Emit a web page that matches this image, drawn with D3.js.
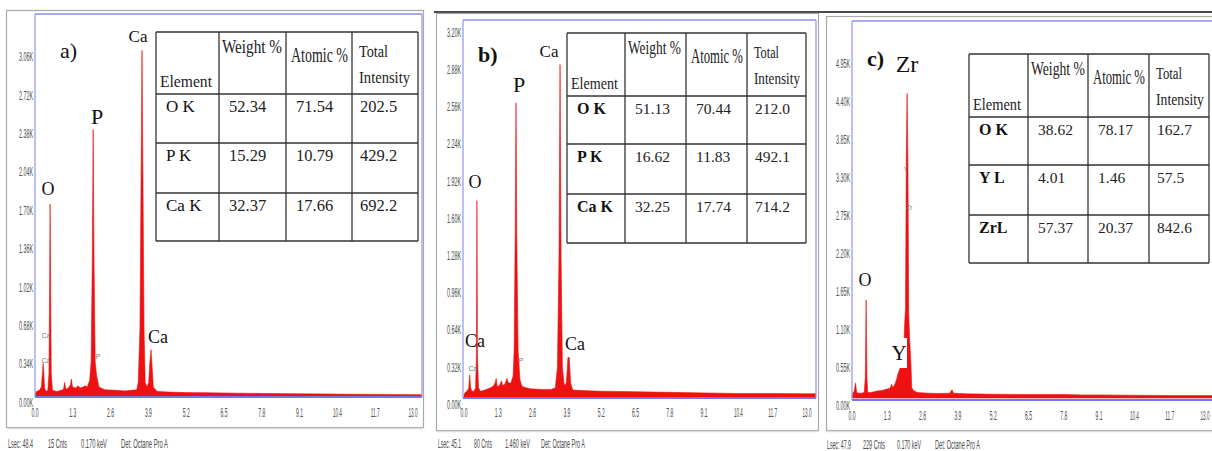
<!DOCTYPE html>
<html><head><meta charset="utf-8">
<script src="https://cdn.jsdelivr.net/npm/d3@7"></script>
<style>html,body{margin:0;padding:0;background:#fff;overflow:hidden}</style>
</head><body>
<svg id="chart" width="1212" height="451"></svg>
<script>
// ---------------- DATA ----------------
const xTicks = [0.0, 1.3, 2.6, 3.9, 5.2, 6.5, 7.8, 9.1, 10.4, 11.7, 13.0];
const yTicksA = [0.00, 0.34, 0.68, 1.02, 1.36, 1.70, 2.04, 2.38, 2.72, 3.06];
const yTicksB = [0.00, 0.32, 0.64, 0.96, 1.28, 1.60, 1.92, 2.24, 2.56, 2.88, 3.20];
const yTicksC = [0.00, 0.55, 1.10, 1.65, 2.20, 2.75, 3.30, 3.85, 4.40, 4.95];

// spectra: [energy keV, counts (K)]
const spectrumA = [[0.00,0.02],[0.05,0.04],[0.15,0.05],[0.22,0.08],[0.26,0.22],[0.28,0.29],[0.30,0.22],[0.33,0.07],[0.38,0.04],[0.44,0.05],[0.48,0.20],[0.50,0.90],[0.52,1.70],[0.54,0.90],[0.56,0.20],[0.60,0.05],[0.75,0.04],[0.90,0.05],[0.98,0.06],[1.02,0.12],[1.06,0.06],[1.15,0.07],[1.22,0.10],[1.25,0.15],[1.29,0.08],[1.40,0.07],[1.48,0.09],[1.55,0.07],[1.65,0.08],[1.72,0.09],[1.80,0.08],[1.88,0.14],[1.93,0.30],[1.97,1.20],[2.00,2.36],[2.03,1.20],[2.07,0.30],[2.12,0.18],[2.20,0.08],[2.40,0.055],[2.80,0.05],[3.10,0.045],[3.30,0.05],[3.50,0.055],[3.55,0.12],[3.61,0.60],[3.65,2.00],[3.68,3.06],[3.71,2.00],[3.75,0.60],[3.79,0.12],[3.85,0.08],[3.91,0.12],[3.95,0.30],[3.99,0.41],[4.03,0.25],[4.07,0.08],[4.20,0.04],[4.60,0.035],[5.20,0.03],[6.00,0.028],[7.00,0.025],[8.00,0.022],[9.00,0.02],[10.0,0.018],[11.0,0.016],[12.0,0.014],[13.0,0.012],[13.3,0.012]];
const spectrumB = [[0.00,0.02],[0.05,0.04],[0.12,0.05],[0.18,0.08],[0.22,0.19],[0.25,0.08],[0.30,0.05],[0.38,0.05],[0.44,0.08],[0.47,0.36],[0.49,1.69],[0.51,0.36],[0.55,0.08],[0.62,0.05],[0.80,0.06],[1.00,0.08],[1.10,0.09],[1.18,0.12],[1.22,0.16],[1.26,0.09],[1.35,0.10],[1.42,0.14],[1.46,0.10],[1.55,0.11],[1.63,0.16],[1.68,0.12],[1.78,0.12],[1.86,0.18],[1.90,0.40],[1.94,1.40],[1.97,2.53],[2.00,1.40],[2.05,0.40],[2.12,0.15],[2.20,0.09],[2.50,0.07],[3.00,0.065],[3.30,0.065],[3.46,0.08],[3.54,0.25],[3.60,1.20],[3.64,2.86],[3.68,1.20],[3.73,0.25],[3.80,0.10],[3.88,0.12],[3.94,0.34],[3.99,0.34],[4.04,0.12],[4.12,0.06],[4.50,0.055],[5.20,0.05],[6.50,0.045],[7.80,0.04],[9.10,0.035],[10.4,0.03],[11.7,0.03],[13.0,0.028],[13.35,0.028]];
const spectrumC = [[0.00,0.05],[0.08,0.10],[0.13,0.22],[0.17,0.08],[0.25,0.07],[0.35,0.07],[0.45,0.08],[0.49,0.30],[0.52,1.42],[0.55,0.30],[0.58,0.08],[0.70,0.08],[0.92,0.10],[1.10,0.11],[1.30,0.13],[1.40,0.14],[1.46,0.20],[1.50,0.15],[1.58,0.20],[1.65,0.28],[1.70,0.36],[1.77,0.43],[1.84,0.50],[1.90,0.60],[1.93,1.00],[1.97,1.30],[2.00,3.50],[2.03,4.41],[2.06,3.40],[2.09,1.20],[2.13,0.80],[2.17,0.50],[2.20,0.15],[2.26,0.11],[2.40,0.08],[2.80,0.07],[3.20,0.065],[3.60,0.07],[3.68,0.12],[3.74,0.07],[4.20,0.06],[5.20,0.055],[6.50,0.05],[7.80,0.05],[8.50,0.045],[9.10,0.045],[10.4,0.04],[11.7,0.035],[13.0,0.035],[13.35,0.035]];

const tableHeader = ["Element", "Weight %", "Atomic %", "Total", "Intensity"];
const elementsA = ["O K", "P K", "Ca K"];
const weightA = ["52.34", "15.29", "32.37"];
const atomicA = ["71.54", "10.79", "17.66"];
const intensityA = ["202.5", "429.2", "692.2"];
const elementsB = ["O K", "P K", "Ca K"];
const weightB = ["51.13", "16.62", "32.25"];
const atomicB = ["70.44", "11.83", "17.74"];
const intensityB = ["212.0", "492.1", "714.2"];
const elementsC = ["O K", "Y L", "ZrL"];
const weightC = ["38.62", "4.01", "57.37"];
const atomicC = ["78.17", "1.46", "20.37"];
const intensityC = ["162.7", "57.5", "842.6"];

const footerA = ["Lsec: 48.4", "15 Cnts", "0.170 keV", "Det: Octane Pro A"];
const footerB = ["Lsec: 45.1", "80 Cnts", "1.460 keV", "Det: Octane Pro A"];
const footerC = ["Lsec: 47.9", "229 Cnts", "0.170 keV", "Det: Octane Pro A"];

// ---------------- LAYOUT ----------------
const panels = [
  { name:"a)", nameBold:false, spectrum:spectrumA, yTicks:yTicksA,
    frame:[6,10,423,427], plot:[35,14,422,397], x0:35, x13:413, yBase:396, yTopTick:50.4,
    yLabDy:7, xLabY:413,
    nameXY:[60,58], nameSize:22,
    labels:[
      {t:"Ca", x:138, y:42, s:17},
      {t:"P", x:97, y:124, s:22},
      {t:"O", x:48, y:195, s:18},
      {t:"Ca", x:158, y:343, s:18}],
    tiny:[{t:"Ca",x:46,y:338},{t:"Ca",x:46,y:363},{t:"P",x:98,y:359}],
    mask:null,
    table:{cols:[156,219,286,352,418], rows:[32,94,143,193,241], bold:false, fs:16,
      hw:[52,60,57,29,51], el:elementsA, w:weightA, at:atomicA, it:intensityA},
    footer:footerA, footX:[8,48,81,121], footY:448, footW:[25,19,26,47] },
  { name:"b)", nameBold:true, spectrum:spectrumB, yTicks:yTicksB,
    frame:[436,13,818,430], plot:[463,20,816,398], x0:464, x13:807, yBase:397, yTopTick:25,
    yLabDy:8, xLabY:413,
    nameXY:[478,62], nameSize:22,
    labels:[
      {t:"Ca", x:549, y:57, s:17},
      {t:"P", x:519, y:92, s:22},
      {t:"O", x:475, y:188, s:18},
      {t:"Ca", x:475, y:347, s:18},
      {t:"Ca", x:575, y:350, s:18}],
    tiny:[{t:"Ca",x:473,y:371},{t:"P",x:521,y:363}],
    mask:null,
    table:{cols:[567,625,686,747,806], rows:[33,96,144,194,243], bold:true, fs:15,
      hw:[47,53,52,25,46], el:elementsB, w:weightB, at:atomicB, it:intensityB},
    footer:footerB, footX:[438,474,505,541], footY:448, footW:[23,18,25,44] },
  { name:"c)", nameBold:true, spectrum:spectrumC, yTicks:yTicksC,
    frame:[826,16,1216,430], plot:[852,21,1216,400], x0:852, x13:1205, yBase:398, yTopTick:56,
    yLabDy:8, xLabY:416,
    nameXY:[867,66], nameSize:22,
    labels:[
      {t:"Zr", x:907, y:72, s:24},
      {t:"O", x:865, y:286, s:18},
      {t:"Y", x:899, y:360, s:21}],
    tiny:[{t:"Y",x:906,y:172},{t:"Zr",x:909,y:210}],
    mask:[891,338,907,368],
    table:{cols:[969,1028,1088,1149,1209], rows:[54,117,165,215,263], bold:true, fs:15,
      hw:[48,54,52,26,48], el:elementsC, w:weightC, at:atomicC, it:intensityC},
    footer:footerC, footX:[827,863,897,935], footY:449, footW:[24,22,24,45] }
];

const svg = d3.select("#chart");
const SERIF = "'Liberation Serif','Times New Roman',serif";
const SANS = "'Liberation Sans',Arial,sans-serif";

// place a text at (x,y) squeezed horizontally to a target width
function squeezed(parent, str, x, y, width, attrs) {
  const t = parent.append("text").attr("x",0).attr("y",0).text(str);
  Object.entries(attrs).forEach(([k,v]) => t.attr(k, v));
  const n = t.node().getComputedTextLength() || width;
  const s = Math.min(1.2, width / n);
  t.attr("transform", `translate(${x},${y}) scale(${s},1)`);
  return t;
}

// dark top border over the b/c image
svg.append("line").attr("x1",434).attr("x2",1212).attr("y1",12).attr("y2",12)
  .attr("stroke","#4a4a4a").attr("stroke-width",2);

panels.forEach((p, i) => {
  const g = svg.append("g");
  const [fx0, fy0, fx1, fy1] = p.frame;
  const [px0, py0, px1, py1] = p.plot;

  // outer frame
  g.append("rect").attr("x",fx0+0.5).attr("y",fy0+0.5).attr("width",fx1-fx0).attr("height",fy1-fy0)
    .attr("fill","#fff").attr("stroke","#a8a8a8").attr("stroke-width",1.2);
  g.append("line").attr("x1",fx0+1).attr("x2",fx1).attr("y1",fy1+1.5).attr("y2",fy1+1.5)
    .attr("stroke","#dcdcdc").attr("stroke-width",1.5);

  const yMax = p.yTicks[p.yTicks.length-1];
  const x = d3.scaleLinear().domain([0, 13]).range([p.x0, p.x13]);
  const y = d3.scaleLinear().domain([0, yMax]).range([p.yBase, p.yTopTick]);

  // clip
  const cid = "clip"+i;
  svg.append("defs").append("clipPath").attr("id",cid).append("rect")
    .attr("x",px0).attr("y",py0).attr("width",px1-px0).attr("height",py1-py0);

  // spectrum
  const area = d3.area().x(d => x(d[0])).y0(y(0)).y1(d => y(d[1])).curve(d3.curveLinear);
  g.append("path").datum(p.spectrum).attr("clip-path","url(#"+cid+")")
    .attr("d", area).attr("fill","#ee1111").attr("stroke","#ee1111").attr("stroke-width",0.6)
    .attr("stroke-linejoin","round");

  // blue plot frame
  g.append("line").attr("x1",px0).attr("x2",px1).attr("y1",py0).attr("y2",py0).attr("stroke","#8a8cf2").attr("stroke-width",1.6);
  g.append("line").attr("x1",px0).attr("x2",px0).attr("y1",py0).attr("y2",py1).attr("stroke","#9a9cf0").attr("stroke-width",1.3);
  if (px1 < 1212) g.append("line").attr("x1",px1).attr("x2",px1).attr("y1",py0).attr("y2",py1).attr("stroke","#9a9cf0").attr("stroke-width",1.3);
  g.append("line").attr("x1",px0).attr("x2",px1).attr("y1",py1).attr("y2",py1).attr("stroke","#7476ee").attr("stroke-width",2);

  // y tick labels
  p.yTicks.forEach(d => squeezed(g, d.toFixed(2)+"K", px0-2, y(d)+p.yLabDy, 14,
    {"text-anchor":"end","dominant-baseline":"central","font-family":SANS,"font-size":12,"fill":"#4a4a4a"}));

  // x tick labels
  xTicks.forEach(d => squeezed(g, d.toFixed(1), x(d), p.xLabY, d >= 10 ? 9 : 7,
    {"text-anchor":"middle","dominant-baseline":"central","font-family":SANS,"font-size":12,"fill":"#4a4a4a"}));

  // white mask behind a label (as in the reference)
  if (p.mask) g.append("rect").attr("x",p.mask[0]).attr("y",p.mask[1])
    .attr("width",p.mask[2]-p.mask[0]).attr("height",p.mask[3]-p.mask[1]).attr("fill","#fff");

  // panel name
  g.append("text").attr("x",p.nameXY[0]).attr("y",p.nameXY[1])
    .attr("font-family",SERIF).attr("font-size",p.nameSize)
    .attr("font-weight",p.nameBold?"bold":"normal").attr("fill","#111").text(p.name);

  // peak labels
  p.labels.forEach(l => {
    g.append("text").attr("x",l.x).attr("y",l.y).attr("text-anchor","middle")
      .attr("font-family",SERIF).attr("font-size",l.s).attr("fill","#111").text(l.t);
  });
  p.tiny.forEach(l => {
    g.append("text").attr("x",l.x).attr("y",l.y).attr("text-anchor","middle")
      .attr("font-family",SANS).attr("font-size",7).attr("fill","#777").text(l.t);
  });

  // table
  const T = p.table, c = T.cols, r = T.rows;
  const tg = g.append("g");
  tg.append("rect").attr("x",c[0]).attr("y",r[0]).attr("width",c[4]-c[0]).attr("height",r[4]-r[0])
    .attr("fill","#fff").attr("stroke","none");
  c.forEach(cx => tg.append("line").attr("x1",cx).attr("x2",cx).attr("y1",r[0]).attr("y2",r[4])
    .attr("stroke","#333").attr("stroke-width",1.3));
  r.forEach(ry => tg.append("line").attr("x1",c[0]).attr("x2",c[4]).attr("y1",ry).attr("y2",ry)
    .attr("stroke","#333").attr("stroke-width",1.3));
  const hdr = [
    {t:tableHeader[0], x:c[0]+4, y:r[1]-7, s:16, w:T.hw[0]},
    {t:tableHeader[1], x:c[1]+3, y:r[0]+21, s:18, w:T.hw[1]},
    {t:tableHeader[2], x:c[2]+5, y:r[0]+30, s:20, w:T.hw[2]},
    {t:tableHeader[3], x:c[3]+7, y:r[0]+25, s:16, w:T.hw[3]},
    {t:tableHeader[4], x:c[3]+7, y:r[0]+51, s:16, w:T.hw[4]}];
  hdr.forEach(h => squeezed(tg, h.t, h.x, h.y, h.w,
    {"font-family":SERIF,"font-size":h.s,"fill":"#222"}));
  T.el.forEach((e, k) => {
    const by = r[k+1] + 18;
    tg.append("text").attr("x",c[0]+10).attr("y",by).attr("font-family",SERIF)
      .attr("font-size",T.fs+1).attr("font-weight",T.bold?"bold":"normal").attr("fill","#111").text(e);
    [T.w[k], T.at[k], T.it[k]].forEach((v, j) => {
      tg.append("text").attr("x",c[j+1]+ (j===2?8:10)).attr("y",by).attr("font-family",SERIF)
        .attr("font-size",T.fs+0.5).attr("fill","#222").text(v);
    });
  });

  // footer
  p.footer.forEach((t, k) => squeezed(g, t, p.footX[k], p.footY, p.footW[k],
    {"font-family":SANS,"font-size":12,"fill":"#4a4a4a"}));
});
</script>
</body></html>
